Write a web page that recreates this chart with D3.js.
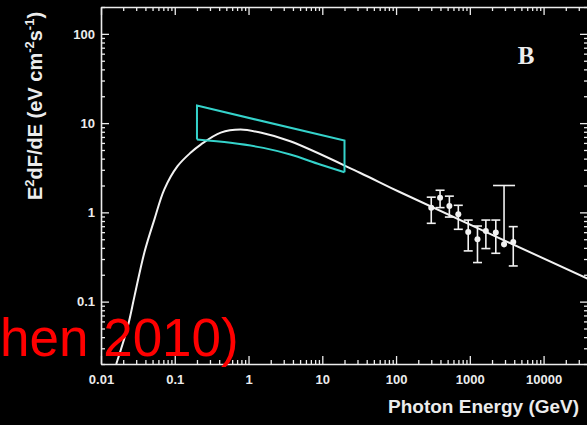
<!DOCTYPE html>
<html><head><meta charset="utf-8">
<script src="https://cdn.jsdelivr.net/npm/d3@7"></script>
<style>html,body{margin:0;padding:0;background:#000;overflow:hidden}</style>
</head><body><svg id="c" width="587" height="425"></svg>
<script>
// ---- data ----
const xTickValues = [0.01, 0.1, 1, 10, 100, 1000, 10000];
const xTickLabels = ["0.01", "0.1", "1", "10", "100", "1000", "10000"];
const yTickValues = [0.1, 1, 10, 100];
const yTickLabels = ["0.1", "1", "10", "100"];

// model curve
const modelEnergy = [0.0161, 0.0232, 0.0285, 0.0388, 0.053, 0.0722, 0.109, 0.165, 0.225, 0.42, 0.78, 1.45, 3.68, 32.3, 112, 40000];
const modelFlux   = [0.020, 0.0537, 0.116, 0.357, 0.835, 1.81, 3.29, 4.68, 5.75, 7.83, 8.46, 7.83, 6.26, 2.78, 1.69, 0.18];

// Fermi-like bow tie
const bowUpperEnergy = [0.2, 20];
const bowUpperFlux   = [15.7, 6.37];
const bowLowerEnergy = [0.2, 0.572, 1.59, 3.68, 9.34, 20];
const bowLowerFlux   = [6.54, 6.01, 5.28, 4.45, 3.44, 2.82];

// TeV data points
const obsEnergy = [300, 395, 528, 698, 951, 1270, 1650, 2250, 2910, 3880];
const obsFlux   = [1.13, 1.46, 1.18, 0.95, 0.603, 0.50, 0.618, 0.593, 0.439, 0.466];
const obsHigh   = [1.48, 1.77, 1.52, 1.20, 0.82, 0.703, 0.82, 0.82, 2.0, 0.692];
const obsLow    = [0.754, 1.13, 0.886, 0.646, 0.37, 0.274, 0.393, 0.348, 0.406, 0.251];
const obsUpperLimit = [false, false, false, false, false, false, false, false, true, false];

const xDomain = [0.01, 40000];
const yDomain = [0.02, 200];

// ---- drawing ----
const svg = d3.select("#c");
svg.append("rect").attr("width", 587).attr("height", 425).attr("fill", "#000");

const L = 101, R = 588, T = 7, B = 364;
const x = d3.scaleLog().domain(xDomain).range([L, R]);
const y = d3.scaleLog().domain(yDomain).range([B, T]);

const fg = "#ececec";
const isMajor = v => Math.abs(Math.log10(v) - Math.round(Math.log10(v))) < 1e-9;

function styleAxis(g, horizontal, sign) {
  g.select(".domain").attr("stroke", fg).attr("stroke-width", 1.6);
  g.selectAll(".tick line").attr("stroke", fg).attr("stroke-width", 1.3)
    .each(function(d) {
      const len = (isMajor(d) ? 8 : 4) * sign;
      d3.select(this).attr(horizontal ? "y2" : "x2", len);
    });
  g.selectAll(".tick text").attr("fill", fg)
    .attr("font-family", "Liberation Sans, Arial, sans-serif")
    .attr("font-weight", "bold").attr("font-size", 13);
}

const xt = x.ticks();
const yt = y.ticks();
const xFmt = d => { const i = xTickValues.findIndex(v => Math.abs(v - d) / v < 1e-6); return i >= 0 ? xTickLabels[i] : ""; };
const yFmt = d => { const i = yTickValues.findIndex(v => Math.abs(v - d) / v < 1e-6); return i >= 0 ? yTickLabels[i] : ""; };

const gB = svg.append("g").attr("transform", `translate(0,${B})`)
  .call(d3.axisBottom(x).tickValues(xt).tickFormat(xFmt).tickSizeInner(-8).tickSizeOuter(0).tickPadding(11));
styleAxis(gB, true, -1);
const gT = svg.append("g").attr("transform", `translate(0,${T})`)
  .call(d3.axisTop(x).tickValues(xt).tickFormat("").tickSizeInner(-8).tickSizeOuter(0));
styleAxis(gT, true, 1);
const gL = svg.append("g").attr("transform", `translate(${L},0)`)
  .call(d3.axisLeft(y).tickValues(yt).tickFormat(yFmt).tickSizeInner(-8).tickSizeOuter(0).tickPadding(6));
styleAxis(gL, false, 1);
const gR = svg.append("g").attr("transform", `translate(${R},0)`)
  .call(d3.axisRight(y).tickValues(yt).tickFormat("").tickSizeInner(-8).tickSizeOuter(0));
styleAxis(gR, false, -1);
[gB, gT, gL, gR].forEach(g => g.attr("font-size", null));

svg.append("clipPath").attr("id", "clip").append("rect")
  .attr("x", L).attr("y", T).attr("width", R - L).attr("height", B - T);
const plot = svg.append("g").attr("clip-path", "url(#clip)");

// model curve
const modelPts = modelEnergy.map((e, i) => [e, modelFlux[i]]);
const lineSmooth = d3.line().x(d => x(d[0])).y(d => y(d[1])).curve(d3.curveCatmullRom.alpha(0.5));
const lineMono = d3.line().x(d => x(d[0])).y(d => y(d[1])).curve(d3.curveMonotoneX);
plot.append("path").attr("d", lineSmooth(modelPts))
  .attr("fill", "none").attr("stroke", "#f2f2f2").attr("stroke-width", 2);

// bow tie
const cyan = "#35d3cb";
const lineLin = d3.line().x(d => x(d[0])).y(d => y(d[1]));
const outline = [[bowLowerEnergy[0], bowLowerFlux[0]], [bowUpperEnergy[0], bowUpperFlux[0]],
                 [bowUpperEnergy[1], bowUpperFlux[1]], [bowLowerEnergy[bowLowerEnergy.length - 1], bowLowerFlux[bowLowerFlux.length - 1]]];
plot.append("path").attr("d", lineLin(outline))
  .attr("fill", "none").attr("stroke", cyan).attr("stroke-width", 2).attr("stroke-linejoin", "miter");
plot.append("path").attr("d", lineMono(bowLowerEnergy.map((e, i) => [e, bowLowerFlux[i]])))
  .attr("fill", "none").attr("stroke", cyan).attr("stroke-width", 2);

// data points with error bars
const obs = obsEnergy.map((e, i) => ({ e, f: obsFlux[i], hi: obsHigh[i], lo: obsLow[i], ul: obsUpperLimit[i] }));
const eb = plot.append("g").attr("stroke", "#f2f2f2").attr("stroke-width", 1.6);
obs.forEach(d => {
  const cx = x(d.e);
  eb.append("line").attr("x1", cx).attr("x2", cx).attr("y1", y(d.hi)).attr("y2", y(d.lo));
  const cap = d.ul ? 11 : 4.5;
  eb.append("line").attr("x1", cx - cap).attr("x2", cx + cap).attr("y1", y(d.hi)).attr("y2", y(d.hi));
  if (!d.ul) eb.append("line").attr("x1", cx - cap).attr("x2", cx + cap).attr("y1", y(d.lo)).attr("y2", y(d.lo));
});
plot.selectAll("circle.pt").data(obs).join("circle").attr("class", "pt")
  .attr("cx", d => x(d.e)).attr("cy", d => y(d.f)).attr("r", 3).attr("fill", "#f2f2f2");

// panel letter
svg.append("text").attr("x", 526).attr("y", 64).attr("text-anchor", "middle")
  .attr("font-family", "Liberation Serif, Times New Roman, serif").attr("font-weight", "bold")
  .attr("font-size", 25).attr("fill", fg).text("B");

// axis titles
svg.append("text").attr("x", 388).attr("y", 413)
  .attr("font-family", "Liberation Sans, Arial, sans-serif").attr("font-weight", "bold")
  .attr("font-size", 19).attr("fill", fg).text("Photon Energy (GeV)");

const yl = svg.append("text").attr("transform", "translate(42,106) rotate(-90)")
  .attr("text-anchor", "middle")
  .attr("font-family", "Liberation Sans, Arial, sans-serif").attr("font-weight", "bold")
  .attr("font-size", 20).attr("fill", fg);
yl.append("tspan").text("E");
yl.append("tspan").attr("font-size", 13).attr("dy", -8).text("2");
yl.append("tspan").attr("dy", 8).text("dF/dE (eV cm");
yl.append("tspan").attr("font-size", 13).attr("dy", -8).text("-2");
yl.append("tspan").attr("dy", 8).text("s");
yl.append("tspan").attr("font-size", 13).attr("dy", -8).text("-1");
yl.append("tspan").attr("dy", 8).text(")");

// red overlay caption
svg.append("text").attr("x", 0).attr("y", 356)
  .attr("font-family", "Liberation Sans, Arial, sans-serif")
  .attr("font-size", 53).attr("fill", "#ff0000").text("hen 2010)");
</script>
</body></html>
